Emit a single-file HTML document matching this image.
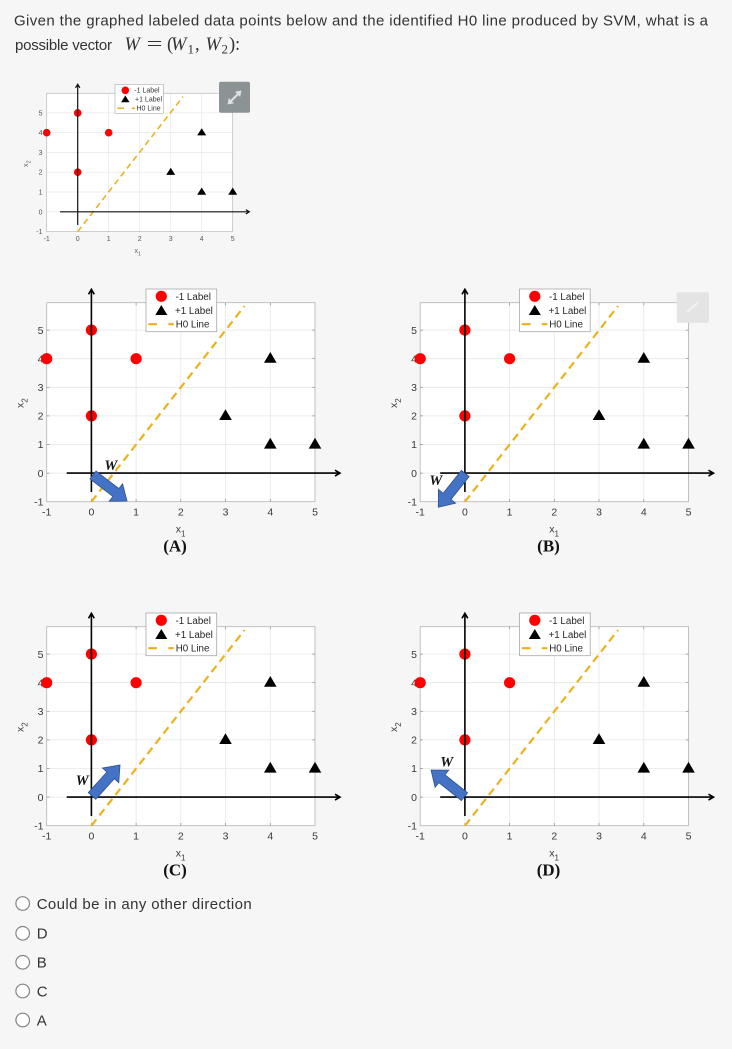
<!DOCTYPE html>
<html><head><meta charset="utf-8"><style>
html,body{margin:0;padding:0;background:#f6f6f6;}
body{width:732px;height:1049px;overflow:hidden;position:relative;}
svg{position:absolute;left:0;top:0;}
</style></head><body>
<svg width="732" height="1049" viewBox="0 0 732 1049" xmlns="http://www.w3.org/2000/svg" font-family="Liberation Sans, Arial, sans-serif">
<rect width="732" height="1049" fill="#f6f6f6"/>

<!-- Question text -->
<text x="14" y="25.5" font-size="15" fill="#333" textLength="694" lengthAdjust="spacing">Given the graphed labeled data points below and the identified H0 line produced by SVM, what is a</text>
<text x="15" y="50" font-size="15" fill="#333" textLength="97" lengthAdjust="spacing">possible vector</text>
<g font-family="Liberation Serif, serif" font-size="18.5" fill="#333">
<text x="124.5" y="50" font-style="italic">W</text>
<text x="146.5" y="50" textLength="16" lengthAdjust="spacingAndGlyphs">=</text>
<text x="167" y="50">(</text>
<text x="171" y="50" font-style="italic">W</text>
<text x="187.5" y="53.5" font-size="13">1</text>
<text x="195" y="50">,</text>
<text x="205.5" y="50" font-style="italic">W</text>
<text x="221.5" y="53.5" font-size="13">2</text>
<text x="229" y="50">)</text>
<text x="235" y="50">:</text>
</g>

<!-- Small chart -->
<g>
<rect x="46.7" y="93.3" width="186" height="138.3" fill="#fff"/>
<path d="M77.7 93.3V231.6M108.7 93.3V231.6M139.7 93.3V231.6M170.7 93.3V231.6M201.7 93.3V231.6M46.7 112.9H232.7M46.7 132.7H232.7M46.7 152.5H232.7M46.7 172.2H232.7M46.7 192H232.7M46.7 211.8H232.7" stroke="#e8e8e8" stroke-width="0.7" fill="none"/>
<rect x="46.7" y="93.3" width="186" height="138.3" fill="none" stroke="#b8b8b8" stroke-width="0.7"/>
<g font-size="7" fill="#555" text-anchor="end">
<text x="42.5" y="115.4">5</text><text x="42.5" y="135.2">4</text><text x="42.5" y="155">3</text><text x="42.5" y="174.7">2</text><text x="42.5" y="194.5">1</text><text x="42.5" y="214.3">0</text><text x="42.5" y="234.1">-1</text>
</g>
<g font-size="7" fill="#555" text-anchor="middle">
<text x="46.7" y="240.8">-1</text><text x="77.7" y="240.8">0</text><text x="108.7" y="240.8">1</text><text x="139.7" y="240.8">2</text><text x="170.7" y="240.8">3</text><text x="201.7" y="240.8">4</text><text x="232.7" y="240.8">5</text>
</g>
<text x="134.5" y="253" font-size="7" fill="#666">x<tspan font-size="5.5" dy="2.5">1</tspan></text>
<text transform="translate(28,167) rotate(-90)" font-size="7" fill="#666">x<tspan font-size="5.5" dy="2.5">2</tspan></text>
<g fill="#f00">
<circle cx="46.7" cy="132.7" r="3.8"/><circle cx="77.7" cy="112.9" r="3.8"/><circle cx="77.7" cy="172.2" r="3.8"/><circle cx="108.7" cy="132.7" r="3.8"/>
</g>
<g fill="#000">
<path d="M170.7 167.7L175.2 174.9L166.2 174.9Z"/>
<path d="M201.7 128.2L206.2 135.4L197.2 135.4Z"/>
<path d="M201.7 187.5L206.2 194.7L197.2 194.7Z"/>
<path d="M232.7 187.5L237.2 194.7L228.2 194.7Z"/>
</g>
<line x1="77.7" y1="231.6" x2="183" y2="96.6" stroke="#EDB120" stroke-width="1.6" stroke-dasharray="6 4"/>
<path d="M60 211.8H249.3M245.8 209.6L249.3 211.8L245.8 214M77.7 225V84.3M75.5 87.8L77.7 84.3L79.9 87.8" stroke="#111" stroke-width="1.2" fill="none"/>
<rect x="115" y="84.3" width="48.3" height="29" fill="#fff" stroke="#aaa" stroke-width="0.6"/>
<circle cx="125.3" cy="90.3" r="3.8" fill="#f00"/>
<path d="M125.3 95.5L129.5 102.2L121.1 102.2Z" fill="#000"/>
<line x1="117.3" y1="108.3" x2="124" y2="108.3" stroke="#EDB120" stroke-width="1.6"/>
<line x1="131.7" y1="108.3" x2="135" y2="108.3" stroke="#EDB120" stroke-width="1.6"/>
<g font-size="7" fill="#333">
<text x="134.3" y="92.6">-1 Label</text>
<text x="135" y="101.6">+1 Label</text>
<text x="136.5" y="110.7">H0 Line</text>
</g>
<rect x="219" y="81.7" width="31" height="31" rx="2" fill="#8b9395"/>
<line x1="230" y1="102" x2="239" y2="93" stroke="#dde2e2" stroke-width="2"/>
<path d="M241.5 90.5L235 91.8L240.2 97Z" fill="#dde2e2"/>
<path d="M227.5 104.5L228.8 98L234 103.2Z" fill="#dde2e2"/>
</g>

<!-- Chart A -->
<g transform="translate(0,0)">
<rect x="46.7" y="302.7" width="268.3" height="199" fill="#fff"/>
<path d="M91.4 302.7V501.7M136.1 302.7V501.7M180.8 302.7V501.7M225.5 302.7V501.7M270.3 302.7V501.7M46.7 330.1H315M46.7 358.7H315M46.7 387.3H315M46.7 415.9H315M46.7 444.5H315M46.7 473.1H315" stroke="#e6e6e6" stroke-width="0.8" fill="none"/>
<rect x="46.7" y="302.7" width="268.3" height="199" fill="none" stroke="#b3b3b3" stroke-width="0.8"/>
<path d="M91.4 501.7v-2.7M136.1 501.7v-2.7M180.8 501.7v-2.7M225.5 501.7v-2.7M270.3 501.7v-2.7M91.4 302.7v2.7M136.1 302.7v2.7M180.8 302.7v2.7M225.5 302.7v2.7M270.3 302.7v2.7M46.7 330.1h2.7M46.7 358.7h2.7M46.7 387.3h2.7M46.7 415.9h2.7M46.7 444.5h2.7M46.7 473.1h2.7M315 330.1h-2.7M315 358.7h-2.7M315 387.3h-2.7M315 415.9h-2.7M315 444.5h-2.7M315 473.1h-2.7" stroke="#8a8a8a" stroke-width="0.7"/>
<g font-size="10.5" fill="#3a3a3a" text-anchor="end">
<text x="43.5" y="333.8">5</text><text x="43.5" y="362.4">4</text><text x="43.5" y="391">3</text><text x="43.5" y="419.6">2</text><text x="43.5" y="448.2">1</text><text x="43.5" y="476.8">0</text><text x="43.5" y="505.4">-1</text>
</g>
<g font-size="10.5" fill="#3a3a3a" text-anchor="middle">
<text x="46.7" y="515.5">-1</text><text x="91.4" y="515.5">0</text><text x="136.1" y="515.5">1</text><text x="180.8" y="515.5">2</text><text x="225.5" y="515.5">3</text><text x="270.3" y="515.5">4</text><text x="315" y="515.5">5</text>
</g>
<text x="175.7" y="532.5" font-size="10.5" fill="#3a3a3a">x<tspan font-size="8" dy="4">1</tspan></text>
<text transform="translate(23.5,408) rotate(-90)" font-size="10.5" fill="#3a3a3a">x<tspan font-size="8" dy="4">2</tspan></text>
<g fill="#f00">
<circle cx="46.7" cy="358.7" r="5.6"/><circle cx="91.4" cy="330.1" r="5.6"/><circle cx="91.4" cy="415.9" r="5.6"/><circle cx="136.1" cy="358.7" r="5.6"/>
</g>
<g fill="#000">
<path d="M225.5 409.2L231.8 420L219.2 420Z"/>
<path d="M270.3 352L276.6 362.8L264 362.8Z"/>
<path d="M270.3 437.8L276.6 448.6L264 448.6Z"/>
<path d="M315 437.8L321.3 448.6L308.7 448.6Z"/>
</g>
<line x1="91.4" y1="501.7" x2="244.5" y2="306" stroke="#EDB120" stroke-width="2.2" stroke-dasharray="8 5"/>
<path d="M66.7 473.1H340M335 470.2L340 473.1L335 476M91.4 492V289.3M88.5 294.3L91.4 289.3L94.3 294.3" stroke="#000" stroke-width="1.6" fill="none"/>
<rect x="146" y="289" width="70.7" height="42.7" fill="#fff" stroke="#a8a8a8" stroke-width="0.8"/>
<circle cx="161.3" cy="296.3" r="5.6" fill="#f00"/>
<path d="M161.3 305L167.3 315L155.3 315Z" fill="#000"/>
<line x1="148.3" y1="324.2" x2="157" y2="324.2" stroke="#EDB120" stroke-width="2.2"/>
<line x1="168.3" y1="324.2" x2="173.8" y2="324.2" stroke="#EDB120" stroke-width="2.2"/>
<g font-size="9.8" fill="#262626">
<text x="175.5" y="299.8">-1 Label</text>
<text x="175" y="314">+1 Label</text>
<text x="175.7" y="327.6">H0 Line</text>
</g>
<polygon points="89.96,478.97 112.86,496.47 109.22,501.23 127,501 122.58,483.77 118.94,488.53 96.04,471.03" fill="#4472C4" stroke="#2F528F" stroke-width="0.8"/>
<text x="110.8" y="470" text-anchor="middle" font-family="Liberation Serif, serif" font-weight="bold" font-style="italic" font-size="14.5" fill="#111">W</text>
<text x="175" y="551.5" text-anchor="middle" font-family="Liberation Serif, serif" font-weight="bold" font-size="17" fill="#111">(A)</text>
</g>

<!-- Chart B -->
<g transform="translate(373.5,0)">
<rect x="46.7" y="302.7" width="268.3" height="199" fill="#fff"/>
<path d="M91.4 302.7V501.7M136.1 302.7V501.7M180.8 302.7V501.7M225.5 302.7V501.7M270.3 302.7V501.7M46.7 330.1H315M46.7 358.7H315M46.7 387.3H315M46.7 415.9H315M46.7 444.5H315M46.7 473.1H315" stroke="#e6e6e6" stroke-width="0.8" fill="none"/>
<rect x="46.7" y="302.7" width="268.3" height="199" fill="none" stroke="#b3b3b3" stroke-width="0.8"/>
<path d="M91.4 501.7v-2.7M136.1 501.7v-2.7M180.8 501.7v-2.7M225.5 501.7v-2.7M270.3 501.7v-2.7M91.4 302.7v2.7M136.1 302.7v2.7M180.8 302.7v2.7M225.5 302.7v2.7M270.3 302.7v2.7M46.7 330.1h2.7M46.7 358.7h2.7M46.7 387.3h2.7M46.7 415.9h2.7M46.7 444.5h2.7M46.7 473.1h2.7M315 330.1h-2.7M315 358.7h-2.7M315 387.3h-2.7M315 415.9h-2.7M315 444.5h-2.7M315 473.1h-2.7" stroke="#8a8a8a" stroke-width="0.7"/>
<g font-size="10.5" fill="#3a3a3a" text-anchor="end">
<text x="43.5" y="333.8">5</text><text x="43.5" y="362.4">4</text><text x="43.5" y="391">3</text><text x="43.5" y="419.6">2</text><text x="43.5" y="448.2">1</text><text x="43.5" y="476.8">0</text><text x="43.5" y="505.4">-1</text>
</g>
<g font-size="10.5" fill="#3a3a3a" text-anchor="middle">
<text x="46.7" y="515.5">-1</text><text x="91.4" y="515.5">0</text><text x="136.1" y="515.5">1</text><text x="180.8" y="515.5">2</text><text x="225.5" y="515.5">3</text><text x="270.3" y="515.5">4</text><text x="315" y="515.5">5</text>
</g>
<text x="175.7" y="532.5" font-size="10.5" fill="#3a3a3a">x<tspan font-size="8" dy="4">1</tspan></text>
<text transform="translate(23.5,408) rotate(-90)" font-size="10.5" fill="#3a3a3a">x<tspan font-size="8" dy="4">2</tspan></text>
<g fill="#f00">
<circle cx="46.7" cy="358.7" r="5.6"/><circle cx="91.4" cy="330.1" r="5.6"/><circle cx="91.4" cy="415.9" r="5.6"/><circle cx="136.1" cy="358.7" r="5.6"/>
</g>
<g fill="#000">
<path d="M225.5 409.2L231.8 420L219.2 420Z"/>
<path d="M270.3 352L276.6 362.8L264 362.8Z"/>
<path d="M270.3 437.8L276.6 448.6L264 448.6Z"/>
<path d="M315 437.8L321.3 448.6L308.7 448.6Z"/>
</g>
<line x1="91.4" y1="501.7" x2="244.5" y2="306" stroke="#EDB120" stroke-width="2.2" stroke-dasharray="8 5"/>
<path d="M66.7 473.1H340M335 470.2L340 473.1L335 476M91.4 492V289.3M88.5 294.3L91.4 289.3L94.3 294.3" stroke="#000" stroke-width="1.6" fill="none"/>
<rect x="146" y="289" width="70.7" height="42.7" fill="#fff" stroke="#a8a8a8" stroke-width="0.8"/>
<circle cx="161.3" cy="296.3" r="5.6" fill="#f00"/>
<path d="M161.3 305L167.3 315L155.3 315Z" fill="#000"/>
<line x1="148.3" y1="324.2" x2="157" y2="324.2" stroke="#EDB120" stroke-width="2.2"/>
<line x1="168.3" y1="324.2" x2="173.8" y2="324.2" stroke="#EDB120" stroke-width="2.2"/>
<g font-size="9.8" fill="#262626">
<text x="175.5" y="299.8">-1 Label</text>
<text x="175" y="314">+1 Label</text>
<text x="175.7" y="327.6">H0 Line</text>
</g>
<polygon points="87.9,470.38 69.64,493.25 64.95,489.51 64.8,507.3 82.13,503.23 77.45,499.49 95.7,476.62" fill="#4472C4" stroke="#2F528F" stroke-width="0.8"/>
<text x="62.3" y="485" text-anchor="middle" font-family="Liberation Serif, serif" font-weight="bold" font-style="italic" font-size="14.5" fill="#111">W</text>
<text x="175" y="551.5" text-anchor="middle" font-family="Liberation Serif, serif" font-weight="bold" font-size="17" fill="#111">(B)</text>
<rect x="303.2" y="292.3" width="32.3" height="30.4" rx="2" fill="#e4e4e4"/>
<line x1="313.5" y1="312" x2="325" y2="302" stroke="#f3f3f3" stroke-width="2"/>
</g>

<!-- Chart C -->
<g transform="translate(0,324)">
<rect x="46.7" y="302.7" width="268.3" height="199" fill="#fff"/>
<path d="M91.4 302.7V501.7M136.1 302.7V501.7M180.8 302.7V501.7M225.5 302.7V501.7M270.3 302.7V501.7M46.7 330.1H315M46.7 358.7H315M46.7 387.3H315M46.7 415.9H315M46.7 444.5H315M46.7 473.1H315" stroke="#e6e6e6" stroke-width="0.8" fill="none"/>
<rect x="46.7" y="302.7" width="268.3" height="199" fill="none" stroke="#b3b3b3" stroke-width="0.8"/>
<path d="M91.4 501.7v-2.7M136.1 501.7v-2.7M180.8 501.7v-2.7M225.5 501.7v-2.7M270.3 501.7v-2.7M91.4 302.7v2.7M136.1 302.7v2.7M180.8 302.7v2.7M225.5 302.7v2.7M270.3 302.7v2.7M46.7 330.1h2.7M46.7 358.7h2.7M46.7 387.3h2.7M46.7 415.9h2.7M46.7 444.5h2.7M46.7 473.1h2.7M315 330.1h-2.7M315 358.7h-2.7M315 387.3h-2.7M315 415.9h-2.7M315 444.5h-2.7M315 473.1h-2.7" stroke="#8a8a8a" stroke-width="0.7"/>
<g font-size="10.5" fill="#3a3a3a" text-anchor="end">
<text x="43.5" y="333.8">5</text><text x="43.5" y="362.4">4</text><text x="43.5" y="391">3</text><text x="43.5" y="419.6">2</text><text x="43.5" y="448.2">1</text><text x="43.5" y="476.8">0</text><text x="43.5" y="505.4">-1</text>
</g>
<g font-size="10.5" fill="#3a3a3a" text-anchor="middle">
<text x="46.7" y="515.5">-1</text><text x="91.4" y="515.5">0</text><text x="136.1" y="515.5">1</text><text x="180.8" y="515.5">2</text><text x="225.5" y="515.5">3</text><text x="270.3" y="515.5">4</text><text x="315" y="515.5">5</text>
</g>
<text x="175.7" y="532.5" font-size="10.5" fill="#3a3a3a">x<tspan font-size="8" dy="4">1</tspan></text>
<text transform="translate(23.5,408) rotate(-90)" font-size="10.5" fill="#3a3a3a">x<tspan font-size="8" dy="4">2</tspan></text>
<g fill="#f00">
<circle cx="46.7" cy="358.7" r="5.6"/><circle cx="91.4" cy="330.1" r="5.6"/><circle cx="91.4" cy="415.9" r="5.6"/><circle cx="136.1" cy="358.7" r="5.6"/>
</g>
<g fill="#000">
<path d="M225.5 409.2L231.8 420L219.2 420Z"/>
<path d="M270.3 352L276.6 362.8L264 362.8Z"/>
<path d="M270.3 437.8L276.6 448.6L264 448.6Z"/>
<path d="M315 437.8L321.3 448.6L308.7 448.6Z"/>
</g>
<line x1="91.4" y1="501.7" x2="244.5" y2="306" stroke="#EDB120" stroke-width="2.2" stroke-dasharray="8 5"/>
<path d="M66.7 473.1H340M335 470.2L340 473.1L335 476M91.4 492V289.3M88.5 294.3L91.4 289.3L94.3 294.3" stroke="#000" stroke-width="1.6" fill="none"/>
<rect x="146" y="289" width="70.7" height="42.7" fill="#fff" stroke="#a8a8a8" stroke-width="0.8"/>
<circle cx="161.3" cy="296.3" r="5.6" fill="#f00"/>
<path d="M161.3 305L167.3 315L155.3 315Z" fill="#000"/>
<line x1="148.3" y1="324.2" x2="157" y2="324.2" stroke="#EDB120" stroke-width="2.2"/>
<line x1="168.3" y1="324.2" x2="173.8" y2="324.2" stroke="#EDB120" stroke-width="2.2"/>
<g font-size="9.8" fill="#262626">
<text x="175.5" y="299.8">-1 Label</text>
<text x="175" y="314">+1 Label</text>
<text x="175.7" y="327.6">H0 Line</text>
</g>
<polygon points="95.71,475.35 114.33,454.74 118.78,458.76 120,441 102.46,444.02 106.91,448.04 88.29,468.65" fill="#4472C4" stroke="#2F528F" stroke-width="0.8"/>
<text x="82.2" y="461" text-anchor="middle" font-family="Liberation Serif, serif" font-weight="bold" font-style="italic" font-size="14.5" fill="#111">W</text>
<text x="175" y="551.5" text-anchor="middle" font-family="Liberation Serif, serif" font-weight="bold" font-size="17" fill="#111">(C)</text>
</g>

<!-- Chart D -->
<g transform="translate(373.5,324)">
<rect x="46.7" y="302.7" width="268.3" height="199" fill="#fff"/>
<path d="M91.4 302.7V501.7M136.1 302.7V501.7M180.8 302.7V501.7M225.5 302.7V501.7M270.3 302.7V501.7M46.7 330.1H315M46.7 358.7H315M46.7 387.3H315M46.7 415.9H315M46.7 444.5H315M46.7 473.1H315" stroke="#e6e6e6" stroke-width="0.8" fill="none"/>
<rect x="46.7" y="302.7" width="268.3" height="199" fill="none" stroke="#b3b3b3" stroke-width="0.8"/>
<path d="M91.4 501.7v-2.7M136.1 501.7v-2.7M180.8 501.7v-2.7M225.5 501.7v-2.7M270.3 501.7v-2.7M91.4 302.7v2.7M136.1 302.7v2.7M180.8 302.7v2.7M225.5 302.7v2.7M270.3 302.7v2.7M46.7 330.1h2.7M46.7 358.7h2.7M46.7 387.3h2.7M46.7 415.9h2.7M46.7 444.5h2.7M46.7 473.1h2.7M315 330.1h-2.7M315 358.7h-2.7M315 387.3h-2.7M315 415.9h-2.7M315 444.5h-2.7M315 473.1h-2.7" stroke="#8a8a8a" stroke-width="0.7"/>
<g font-size="10.5" fill="#3a3a3a" text-anchor="end">
<text x="43.5" y="333.8">5</text><text x="43.5" y="362.4">4</text><text x="43.5" y="391">3</text><text x="43.5" y="419.6">2</text><text x="43.5" y="448.2">1</text><text x="43.5" y="476.8">0</text><text x="43.5" y="505.4">-1</text>
</g>
<g font-size="10.5" fill="#3a3a3a" text-anchor="middle">
<text x="46.7" y="515.5">-1</text><text x="91.4" y="515.5">0</text><text x="136.1" y="515.5">1</text><text x="180.8" y="515.5">2</text><text x="225.5" y="515.5">3</text><text x="270.3" y="515.5">4</text><text x="315" y="515.5">5</text>
</g>
<text x="175.7" y="532.5" font-size="10.5" fill="#3a3a3a">x<tspan font-size="8" dy="4">1</tspan></text>
<text transform="translate(23.5,408) rotate(-90)" font-size="10.5" fill="#3a3a3a">x<tspan font-size="8" dy="4">2</tspan></text>
<g fill="#f00">
<circle cx="46.7" cy="358.7" r="5.6"/><circle cx="91.4" cy="330.1" r="5.6"/><circle cx="91.4" cy="415.9" r="5.6"/><circle cx="136.1" cy="358.7" r="5.6"/>
</g>
<g fill="#000">
<path d="M225.5 409.2L231.8 420L219.2 420Z"/>
<path d="M270.3 352L276.6 362.8L264 362.8Z"/>
<path d="M270.3 437.8L276.6 448.6L264 448.6Z"/>
<path d="M315 437.8L321.3 448.6L308.7 448.6Z"/>
</g>
<line x1="91.4" y1="501.7" x2="244.5" y2="306" stroke="#EDB120" stroke-width="2.2" stroke-dasharray="8 5"/>
<path d="M66.7 473.1H340M335 470.2L340 473.1L335 476M91.4 492V289.3M88.5 294.3L91.4 289.3L94.3 294.3" stroke="#000" stroke-width="1.6" fill="none"/>
<rect x="146" y="289" width="70.7" height="42.7" fill="#fff" stroke="#a8a8a8" stroke-width="0.8"/>
<circle cx="161.3" cy="296.3" r="5.6" fill="#f00"/>
<path d="M161.3 305L167.3 315L155.3 315Z" fill="#000"/>
<line x1="148.3" y1="324.2" x2="157" y2="324.2" stroke="#EDB120" stroke-width="2.2"/>
<line x1="168.3" y1="324.2" x2="173.8" y2="324.2" stroke="#EDB120" stroke-width="2.2"/>
<g font-size="9.8" fill="#262626">
<text x="175.5" y="299.8">-1 Label</text>
<text x="175" y="314">+1 Label</text>
<text x="175.7" y="327.6">H0 Line</text>
</g>
<polygon points="94.12,468.79 71.57,450.81 75.3,446.12 57.5,446 61.6,463.32 65.34,458.63 87.89,476.61" fill="#4472C4" stroke="#2F528F" stroke-width="0.8"/>
<text x="73.2" y="442.7" text-anchor="middle" font-family="Liberation Serif, serif" font-weight="bold" font-style="italic" font-size="14.5" fill="#111">W</text>
<text x="175" y="551.5" text-anchor="middle" font-family="Liberation Serif, serif" font-weight="bold" font-size="17" fill="#111">(D)</text>
</g>

<!-- Radio options -->
<g fill="#fff" stroke="#858585" stroke-width="1.2">
<circle cx="22.7" cy="903.5" r="6.8"/>
<circle cx="22.7" cy="933.3" r="6.8"/>
<circle cx="22.7" cy="962.3" r="6.8"/>
<circle cx="22.7" cy="991" r="6.8"/>
<circle cx="22.7" cy="1020" r="6.8"/>
</g>
<g font-size="15" fill="#333">
<text x="36.7" y="908.8" textLength="215" lengthAdjust="spacing">Could be in any other direction</text>
<text x="36.7" y="938.6">D</text>
<text x="36.7" y="967.6">B</text>
<text x="36.7" y="996.3">C</text>
<text x="36.7" y="1025.3">A</text>
</g>
</svg>
</body></html>
